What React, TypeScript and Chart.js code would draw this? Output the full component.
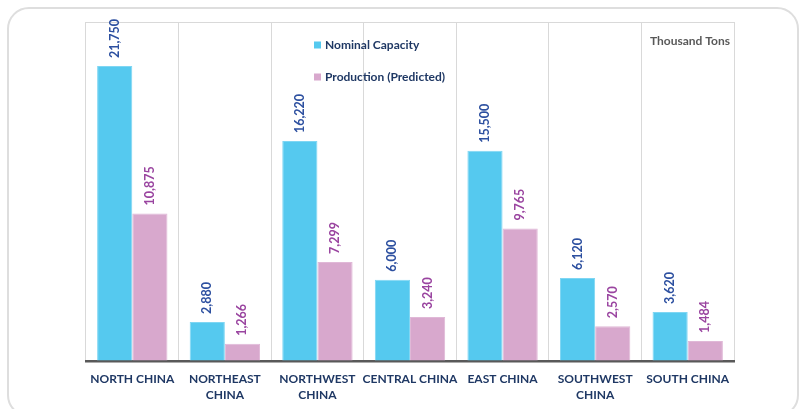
import React, { useEffect, useRef } from "react";
import { Chart, registerables } from "chart.js";

Chart.register(...registerables);

const categories: (string | string[])[] = [
  "NORTH CHINA",
  ["NORTHEAST", "CHINA"],
  ["NORTHWEST", "CHINA"],
  "CENTRAL CHINA",
  "EAST CHINA",
  ["SOUTHWEST", "CHINA"],
  "SOUTH CHINA",
];
const nominalCapacity = [21750, 2880, 16220, 6000, 15500, 6120, 3620];
const production = [10875, 1266, 7299, 3240, 9765, 2570, 1484];
const seriesNames = ["Nominal Capacity", "Production (Predicted)"];
const unitLabel = "Thousand Tons";

const FONT = "Lato, 'Open Sans', sans-serif";
const CYAN = "#55c9ef";
const PINK = "#d8a8cd";
const LABEL_COLORS = ["#2d50a0", "#9a45a0"];
const NAVY = "#1f3864";

const labelPlugin = {
  id: "valueLabels",
  afterDatasetsDraw(chart: any) {
    const ctx = chart.ctx;
    ctx.save();
    ctx.font = `bold 12.5px ${FONT}`;
    ctx.textAlign = "left";
    ctx.textBaseline = "middle";
    chart.data.datasets.forEach((ds: any, i: number) => {
      const meta = chart.getDatasetMeta(i);
      ctx.fillStyle = LABEL_COLORS[i];
      meta.data.forEach((bar: any, j: number) => {
        const v = ds.data[j] as number;
        ctx.save();
        ctx.translate(bar.x, bar.y - 8);
        ctx.rotate(-Math.PI / 2);
        ctx.fillText(v.toLocaleString("en-US"), 0, 0);
        ctx.restore();
      });
    });
    // custom legend
    const lx = 314;
    const ly = [45, 77];
    ctx.font = `bold 12px ${FONT}`;
    chart.data.datasets.forEach((ds: any, i: number) => {
      ctx.fillStyle = ds.backgroundColor;
      ctx.fillRect(lx, ly[i] - 3.5, 7, 7);
      ctx.fillStyle = NAVY;
      ctx.fillText(ds.label, lx + 11, ly[i]);
    });
    // unit label
    ctx.font = `bold 12px ${FONT}`;
    ctx.fillStyle = "#595959";
    ctx.textAlign = "right";
    ctx.fillText(unitLabel, chart.chartArea.right - 4, 41);
    ctx.restore();
  },
};

export default function App() {
  const ref = useRef<HTMLCanvasElement>(null);
  useEffect(() => {
    if (!ref.current) return;
    const chart = new Chart(ref.current, {
      type: "bar",
      data: {
        labels: categories,
        datasets: [
          {
            label: seriesNames[0],
            data: nominalCapacity,
            backgroundColor: CYAN,
            borderColor: "#7fd6f3",
            borderWidth: 1,
          },
          {
            label: seriesNames[1],
            data: production,
            backgroundColor: PINK,
            borderColor: "#e0b8d7",
            borderWidth: 1,
          },
        ],
      },
      plugins: [labelPlugin],
      options: {
        animation: false,
        responsive: false,
        maintainAspectRatio: false,
        layout: { padding: { left: 86, right: 72, top: 22, bottom: 0 } },
        datasets: { bar: { categoryPercentage: 0.76, barPercentage: 1 } },
        plugins: { legend: { display: false }, tooltip: { enabled: false } },
        scales: {
          x: {
            grid: { display: true, color: "#d9d9d9", lineWidth: 1, drawTicks: false, offset: true },
            border: { display: true, color: "#595959", width: 2.5 },
            ticks: {
              color: NAVY,
              font: { family: FONT, size: 12, weight: "bold", lineHeight: 1.35 },
              padding: 10,
              maxRotation: 0,
              autoSkip: false,
            },
            afterFit: (scale: any) => {
              scale.height = 48;
            },
          },
          y: {
            min: 0,
            max: 25000,
            ticks: { display: false, stepSize: 25000 },
            grid: {
              drawTicks: false,
              color: (c: any) => (c.tick && c.tick.value === 25000 ? "#d9d9d9" : "rgba(0,0,0,0)"),
            },
            border: { display: false },
            afterFit: (scale: any) => {
              scale.width = 0;
            },
          },
        },
      },
    });
    return () => chart.destroy();
  }, []);
  return (
    <div style={{ position: "absolute", left: 0, top: 0, width: 806, height: 409, background: "#fff", overflow: "hidden" }}>
      <div
        style={{
          position: "absolute",
          left: 7,
          top: 7,
          width: 792,
          height: 410,
          border: "2px solid #dedede",
          borderRadius: 22,
          boxSizing: "border-box",
        }}
      />
      <canvas ref={ref} width={806} height={409} style={{ position: "absolute", left: 0, top: 0 }} />
    </div>
  );
}
